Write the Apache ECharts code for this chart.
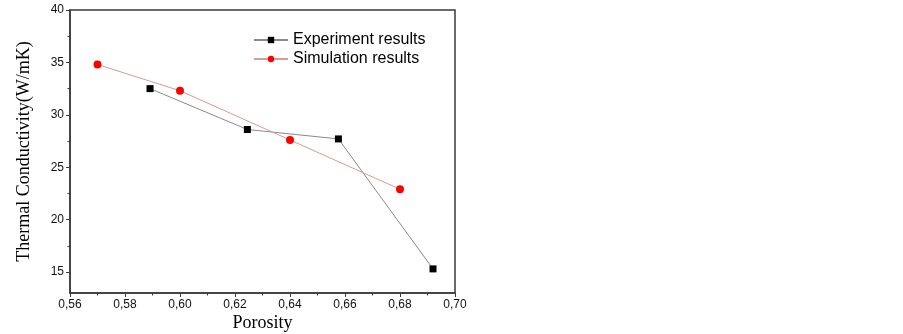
<!DOCTYPE html>
<html>
<head>
<meta charset="utf-8">
<script src="https://cdn.jsdelivr.net/npm/echarts@6/dist/echarts.min.js"></script>
<style>
  html, body { margin: 0; padding: 0; background: #fff; }
  #chart { width: 903px; height: 334px; }
</style>
</head>
<body>
<div id="chart"></div>
<script>
// porosity vs conductivity
const expPorosity = [0.5891, 0.6245, 0.6576, 0.692]
const expConductivity = [32.5, 28.6, 27.7, 15.3]
const simPorosity = [0.57, 0.60, 0.64, 0.68]
const simConductivity = [34.8, 32.3, 27.6, 22.9]

const xTicks = [0.56, 0.58, 0.60, 0.62, 0.64, 0.66, 0.68, 0.70]
const xMinorTicks = [0.57, 0.59, 0.61, 0.63, 0.65, 0.67, 0.69]
const yTicks = [15, 20, 25, 30, 35, 40]
const yMinorTicks = [17.5, 22.5, 27.5, 32.5, 37.5]

const zip = (xs, ys) => xs.map((x, i) => [x, ys[i]])
const axisColor = '#3a3a3a'
const fmtComma = v => v.toFixed(2).replace('.', ',')

const chart = echarts.init(document.getElementById('chart'))

chart.setOption({
  backgroundColor: '#fff',
  animation: false,
  grid: {
    left: 70, right: 448, top: 10, bottom: 41,
    outerBoundsMode: 'none',
    show: true, borderColor: axisColor, borderWidth: 1.5, backgroundColor: 'transparent'
  },
  legend: {
    orient: 'vertical',
    left: 248, top: 27,
    itemWidth: 34, itemHeight: 8, itemGap: 3,
    textStyle: {fontFamily: 'Liberation Sans', fontSize: 16, color: '#000'},
    data: ['Experiment results', 'Simulation results']
  },
  xAxis: [{
    type: 'value', min: 0.56, max: 0.70,
    name: 'Porosity', nameLocation: 'middle', nameGap: 21, nameMoveOverlap: false,
    nameTextStyle: {fontFamily: 'Liberation Serif', fontSize: 18, color: '#000'},
    axisLine: {lineStyle: {color: axisColor, width: 1.5}},
    axisTick: {length: 4, customValues: xTicks, lineStyle: {color: axisColor, width: 1}},
    axisLabel: {customValues: xTicks, formatter: fmtComma, fontFamily: 'Liberation Sans', fontSize: 12, color: '#111', margin: 6},
    splitLine: {show: false}
  }, {
    type: 'value', min: 0.56, max: 0.70, position: 'bottom',
    axisLine: {show: false},
    axisTick: {length: 2.5, customValues: xMinorTicks, lineStyle: {color: axisColor, width: 1}},
    axisLabel: {show: false},
    splitLine: {show: false}
  }],
  yAxis: [{
    type: 'value', min: 13, max: 40,
    name: 'Thermal Conductivity(W/mK)', nameLocation: 'middle', nameGap: 37, nameMoveOverlap: false,
    nameTextStyle: {fontFamily: 'Liberation Serif', fontSize: 18, color: '#000'},
    axisLine: {show: true, lineStyle: {color: axisColor, width: 1.5}},
    axisTick: {show: true, length: 4, customValues: yTicks, lineStyle: {color: axisColor, width: 1}},
    axisLabel: {customValues: yTicks, fontFamily: 'Liberation Sans', fontSize: 12, color: '#111', margin: 6},
    splitLine: {show: false}
  }, {
    type: 'value', min: 13, max: 40, position: 'left',
    axisLine: {show: false},
    axisTick: {show: true, length: 2.5, customValues: yMinorTicks, lineStyle: {color: axisColor, width: 1}},
    axisLabel: {show: false},
    splitLine: {show: false}
  }],
  series: [{
    name: 'Experiment results',
    type: 'line',
    data: zip(expPorosity, expConductivity),
    symbol: 'rect', symbolSize: 7,
    itemStyle: {color: '#000'},
    lineStyle: {color: '#8a8a8a', width: 1}
  }, {
    name: 'Simulation results',
    type: 'line',
    data: zip(simPorosity, simConductivity),
    symbol: 'circle', symbolSize: 8,
    itemStyle: {color: '#f00'},
    lineStyle: {color: '#d99a9a', width: 1}
  }]
})
</script>
</body>
</html>
